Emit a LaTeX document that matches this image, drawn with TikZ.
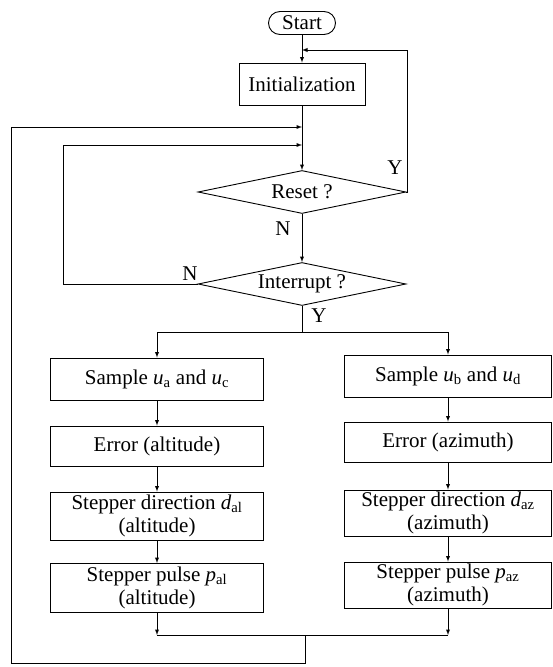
\documentclass[tikz,border=0pt]{standalone}
\usepackage{fontspec}
\setmainfont{Liberation Serif}
\usepackage{tikz}
\usetikzlibrary{
    arrows,
    shapes.geometric,
    calc,
    positioning
}

\begin{document}
\begin{tikzpicture}[x=1pt, y=-1pt, line width=0.9pt,
    font=\fontsize{21}{23}\selectfont,
    box/.style={draw, rectangle, inner sep=2pt, align=center, minimum height=42pt},
    decision/.style={draw, diamond, aspect=4.8, inner sep=0pt, minimum width=208pt, minimum height=43pt},
    flow/.style={-latex}]
    \useasboundingbox (0,0) rectangle (553,667);

    \node[draw, rounded corners=11.5pt, minimum width=67pt, minimum height=23pt, inner sep=0pt] (start) at (302, 23) {Start};
    \node[box, minimum width=126pt] (init) at (302, 84) {Initialization};
    \node[decision] (reset) at (302, 192) {Reset ?};
    \node[decision] (interrupt) at (302, 284) {Interrupt ?};

    \node[box, minimum width=213pt] (samplel) at (157, 379) {Sample \textit{u}\textsubscript{a} and \textit{u}\textsubscript{c}};
    \node[box, minimum width=213pt, minimum height=40pt] (errorl) at (157, 446) {Error (altitude)};
    \node[box, minimum width=213pt, minimum height=48pt] (directl) at (157, 516) {Stepper direction \textit{d}\textsubscript{al}\\(altitude)};
    \node[box, minimum width=213pt, minimum height=49pt] (pulsel) at (157, 588) {Stepper pulse \textit{p}\textsubscript{al}\\(altitude)};

    \node[box, minimum width=207pt] (sampler) at (448, 376) {Sample \textit{u}\textsubscript{b} and \textit{u}\textsubscript{d}};
    \node[box, minimum width=207pt, minimum height=40pt] (errorr) at (448, 442) {Error (azimuth)};
    \node[box, minimum width=207pt, minimum height=46pt] (directr) at (448, 513) {Stepper direction \textit{d}\textsubscript{az}\\(azimuth)};
    \node[box, minimum width=207pt, minimum height=46pt] (pulser) at (448, 585) {Stepper pulse \textit{p}\textsubscript{az}\\(azimuth)};

    % junctions on the main line
    \coordinate (j1) at (302, 50);
    \coordinate (j2) at (302, 127);
    \coordinate (j3) at (302, 145);
    \coordinate (yturn) at (407, 50);
    \coordinate (nturn) at (63, 145);
    \coordinate (oturn) at (11, 127);
    \coordinate (obot) at (11, 663);
    \coordinate (br) at (302, 332);
    \coordinate (ml) at (157, 635);
    \coordinate (mr) at (448, 635);
    \coordinate (m) at (305, 635);

    \draw[flow] (start) -- (init);
    \draw[flow] (init) -- (reset);
    \draw[flow] (reset) -- (interrupt);
    \draw[flow] (reset.east) -| (yturn) -- (j1);
    \draw[flow] (interrupt.west) -| (nturn) -- (j3);
    \draw[flow] (m) |- (obot) -- (oturn) -- (j2);

    \draw (interrupt.south) -- (br);
    \draw[flow] (br) -| (samplel);
    \draw[flow] (br) -| (sampler);

    \draw[flow] (samplel) -- (errorl);
    \draw[flow] (errorl) -- (directl);
    \draw[flow] (directl) -- (pulsel);
    \draw[flow] (sampler) -- (errorr);
    \draw[flow] (errorr) -- (directr);
    \draw[flow] (directr) -- (pulser);

    \draw[flow] (pulsel) -- (ml);
    \draw[flow] (pulser) -- (mr);
    \draw (ml) -- (mr);

    % branch labels
    \node (ylabr) at (395, 168) {Y};
    \node (nlabr) at (283, 229) {N};
    \node (nlabi) at (190, 274) {N};
    \node (ylabi) at (319, 316) {Y};
\end{tikzpicture}
\end{document}
